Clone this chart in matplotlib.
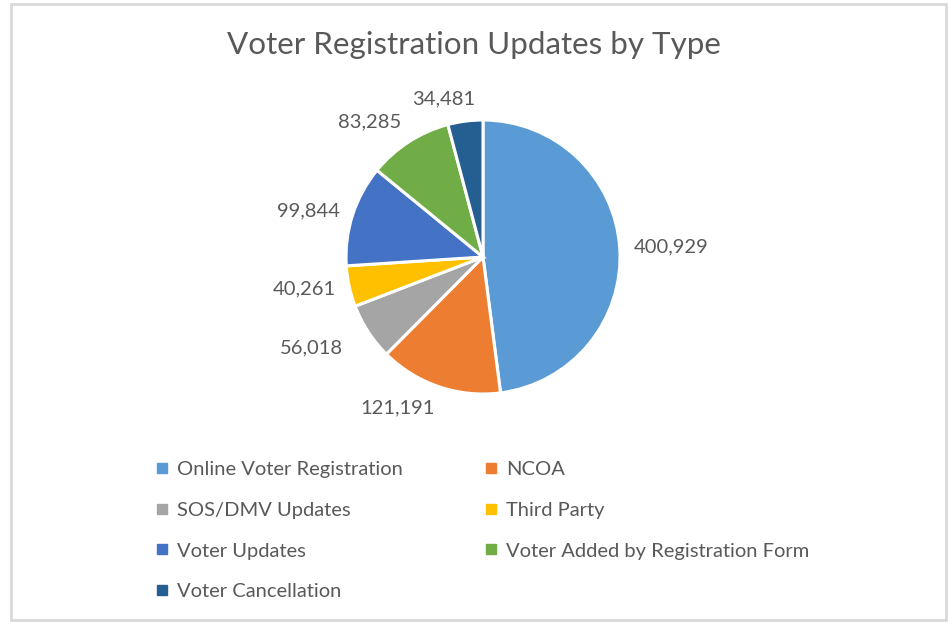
import numpy as np
import matplotlib.pyplot as plt
from matplotlib.lines import Line2D
from matplotlib.patches import Rectangle

plt.rcParams['font.family'] = ['Lato', 'DejaVu Sans']

categories = ['Online Voter Registration', 'NCOA', 'SOS/DMV Updates', 'Third Party',
              'Voter Updates', 'Voter Added by Registration Form', 'Voter Cancellation']
values = [400929, 121191, 56018, 40261, 99844, 83285, 34481]
colors = ['#5B9BD5', '#ED7D31', '#A5A5A5', '#FFC000', '#4472C4', '#70AD47', '#255E91']
txt = '#595959'

W, H = 948, 622
fig = plt.figure(figsize=(W / 100, H / 100), dpi=100)
fig.patch.set_facecolor('white')

# chart border
fig.patches.append(Rectangle((11 / W, 2 / H), 935 / W, 616 / H, transform=fig.transFigure,
                             fill=False, edgecolor='#d9d9d9', linewidth=2))

cx, cy, r = 483, 257, 137
ax = fig.add_axes([(cx - r) / W, (H - cy - r) / H, 2 * r / W, 2 * r / H])
wedges, _ = ax.pie(values, colors=colors, startangle=90, counterclock=False,
                   wedgeprops=dict(edgecolor='white', linewidth=2.2))
ax.set_xlim(-1, 1)
ax.set_ylim(-1, 1)
ax.set_aspect('equal')

# data labels outside end
for w, v in zip(wedges, values):
    ang = np.deg2rad((w.theta1 + w.theta2) / 2)
    c, s = np.cos(ang), np.sin(ang)
    rr = 1.1
    ha = 'left' if c > 0.05 else 'right'
    if s > 0.9:
        va, ha = 'bottom', 'center'
        c = c * 2.0
    elif s > 0.6:
        va = 'bottom'
    elif s < -0.9:
        va = 'top'
    else:
        va = 'center'
    if -0.9 < s < -0.4:
        rr = 1.22
    ax.text(rr * c, rr * s, f'{v:,}', ha=ha, va=va, fontsize=14.5, color=txt, clip_on=False)

fig.text(0.5, 1 - 45 / H, 'Voter Registration Updates by Type', ha='center', va='center',
         fontsize=22.6, color=txt)

handles = [Line2D([], [], marker='s', linestyle='none', markersize=6.5,
                  markerfacecolor=col, markeredgecolor=col) for col in colors]
order = [0, 2, 4, 6, 1, 3, 5]
fig.legend([handles[i] for i in order], [categories[i] for i in order], ncol=2,
           loc='upper left', bbox_to_anchor=(138 / W, 1 - 443 / H), frameon=False,
           fontsize=14.5, labelcolor=txt, handlelength=0.6, handletextpad=0.45,
           labelspacing=1.17, columnspacing=4.05)

fig.savefig('out.png', dpi=100)
